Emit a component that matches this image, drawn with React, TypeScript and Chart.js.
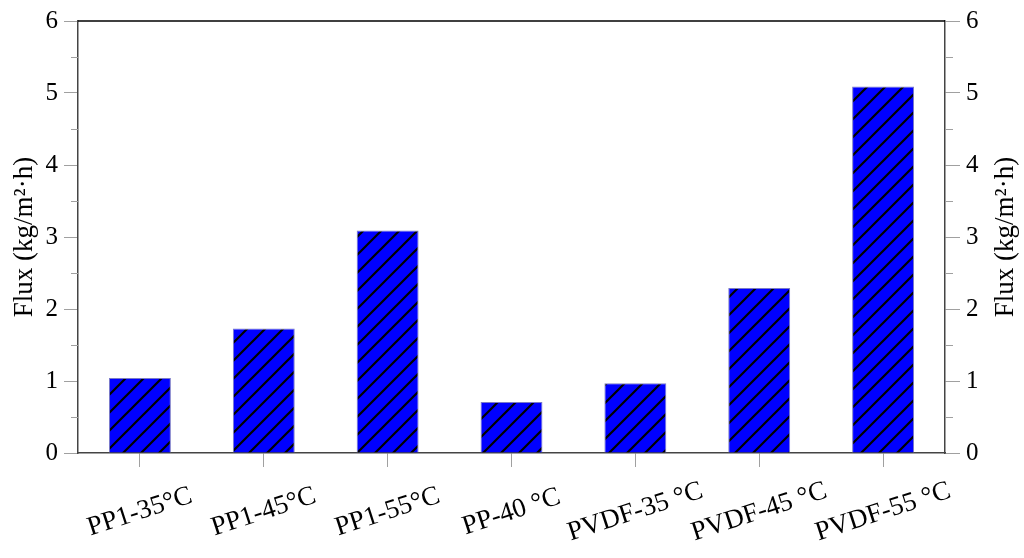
import React, { useEffect, useRef } from 'react';
import { Chart, registerables } from 'chart.js';

Chart.register(...registerables);

const categories = ['PP1-35°C', 'PP1-45°C', 'PP1-55°C', 'PP-40 °C', 'PVDF-35 °C', 'PVDF-45 °C', 'PVDF-55 °C'];
const fluxValues = [1.04, 1.73, 3.09, 0.71, 0.97, 2.29, 5.09];
const yMin = 0;
const yMax = 6;
const yStep = 1;
const minorTicks = [0.5, 1.5, 2.5, 3.5, 4.5, 5.5];
const axisTitle = 'Flux (kg/m²·h)';

const FONT = '"Liberation Serif", "Times New Roman", Times, serif';

function makePattern(): CanvasPattern | string {
  const s = 18;
  const c = document.createElement('canvas');
  c.width = s;
  c.height = s;
  const g = c.getContext('2d');
  if (!g) return '#0000ff';
  g.fillStyle = '#0000ff';
  g.fillRect(0, 0, s, s);
  g.strokeStyle = '#000000';
  g.lineWidth = 2.2;
  g.beginPath();
  g.moveTo(0, s);
  g.lineTo(s, 0);
  g.moveTo(-2, 2);
  g.lineTo(2, -2);
  g.moveTo(s - 2, s + 2);
  g.lineTo(s + 2, s - 2);
  g.stroke();
  const p = g.createPattern(c, 'repeat');
  return p || '#0000ff';
}

const decorPlugin = {
  id: 'decor',
  afterDraw(chart: any) {
    const ctx: CanvasRenderingContext2D = chart.ctx;
    const { left, right, top, bottom } = chart.chartArea;
    const xs = chart.scales.x;
    const ys = chart.scales.y;
    ctx.save();
    ctx.strokeStyle = '#000';
    ctx.lineWidth = 1.5;
    ctx.beginPath();
    ctx.moveTo(left, top);
    ctx.lineTo(right, top);
    ctx.stroke();
    ctx.strokeStyle = '#a0a0a0';
    ctx.lineWidth = 1;
    ctx.beginPath();
    minorTicks.forEach((v) => {
      const py = Math.round(ys.getPixelForValue(v)) + 0.5;
      ctx.moveTo(left - 7, py);
      ctx.lineTo(left, py);
      ctx.moveTo(right, py);
      ctx.lineTo(right + 8, py);
    });
    ctx.stroke();
    ctx.fillStyle = '#000';
    ctx.font = `27px ${FONT}`;
    ctx.textAlign = 'center';
    ctx.textBaseline = 'middle';
    categories.forEach((c, i) => {
      const px = xs.getPixelForTick(i);
      ctx.save();
      ctx.translate(px, bottom + 59);
      ctx.rotate((-18 * Math.PI) / 180);
      ctx.fillText(c, 0, 0);
      ctx.restore();
    });
    ctx.font = `27px ${FONT}`;
    const cy = (top + bottom) / 2;
    [left - 53, right + 61].forEach((cx) => {
      ctx.save();
      ctx.translate(cx, cy);
      ctx.rotate(-Math.PI / 2);
      ctx.fillText(axisTitle, 0, 0);
      ctx.restore();
    });
    ctx.restore();
  },
};

export default function App() {
  const ref = useRef<HTMLCanvasElement | null>(null);

  useEffect(() => {
    let chart: Chart | null = null;
    let cancelled = false;
    const build = () => {
      if (cancelled || !ref.current) return;
      const pattern = makePattern();
      const yAxisCommon = {
        type: 'linear' as const,
        min: yMin,
        max: yMax,
        ticks: {
          stepSize: yStep,
          color: '#000',
          font: { family: FONT, size: 25 },
        },
        grid: {
          display: true,
          drawOnChartArea: false,
          drawTicks: true,
          tickLength: 14,
          tickColor: '#a0a0a0',
          tickWidth: 1,
        },
        border: { display: true, color: '#444', width: 1.5 },
      };
      chart = new Chart(ref.current, {
        type: 'bar',
        data: {
          labels: categories,
          datasets: [
            {
              label: 'Flux',
              data: fluxValues,
              backgroundColor: pattern as any,
              borderColor: '#7a7ac8',
              borderWidth: 1,
              barPercentage: 0.5,
              categoryPercentage: 1,
              yAxisID: 'y',
            },
          ],
        },
        plugins: [decorPlugin],
        options: {
          animation: false,
          responsive: false,
          maintainAspectRatio: false,
          layout: { padding: { top: 21, left: 0, right: 0, bottom: 0 } },
          plugins: {
            legend: { display: false },
            tooltip: { enabled: false },
            title: { display: false },
          },
          scales: {
            x: {
              type: 'category',
              offset: true,
              ticks: { display: false },
              grid: {
                display: true,
                offset: false,
                drawOnChartArea: false,
                drawTicks: true,
                tickLength: 14,
                tickColor: '#a0a0a0',
                color: '#a0a0a0',
              },
              border: { display: true, color: '#444', width: 1.5 },
              afterFit: (s: any) => {
                s.height = 105;
              },
            },
            y: {
              ...yAxisCommon,
              position: 'left',
              ticks: { ...yAxisCommon.ticks, padding: 6 },
              afterFit: (s: any) => {
                s.width = 78;
              },
            },
            y2: {
              ...yAxisCommon,
              position: 'right',
              grid: { ...yAxisCommon.grid, tickLength: 15 },
              ticks: { ...yAxisCommon.ticks, padding: 6 },
              afterFit: (s: any) => {
                s.width = 79;
              },
            },
          },
        } as any,
      });
    };
    const fontsApi = (document as any).fonts;
    if (fontsApi && fontsApi.load) {
      fontsApi
        .load('25px "Liberation Serif"', 'Flux°²·0123456789')
        .catch(() => null)
        .then(() => build());
    } else {
      build();
    }
    return () => {
      cancelled = true;
      if (chart) chart.destroy();
    };
  }, []);

  return (
    <div style={{ position: 'fixed', left: 0, top: 0, width: 1024, height: 558, background: '#fff' }}>
      <canvas ref={ref} width={1024} height={558} style={{ width: 1024, height: 558, display: 'block' }} />
    </div>
  );
}
